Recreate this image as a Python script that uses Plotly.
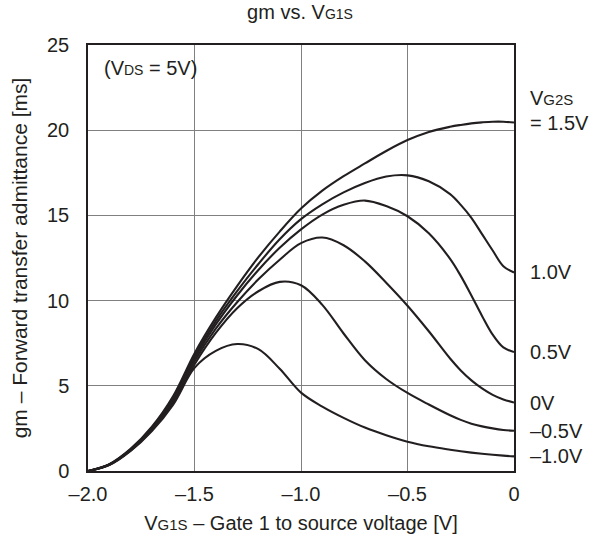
import plotly.graph_objects as go

# Gate-1 to source voltage [V]
vg1s = [-2.0, -1.9, -1.8, -1.7, -1.6, -1.5, -1.4, -1.3, -1.2, -1.1, -1.0,
        -0.9, -0.8, -0.7, -0.6, -0.5, -0.4, -0.3, -0.25, -0.2, -0.15, -0.1, -0.05, 0.0]

# gm [ms] per VG2S
gm_p15 = [0.0, 0.40, 1.30, 2.60, 4.40, 6.90, 9.00, 10.85, 12.55, 14.05, 15.40,
          16.45, 17.30, 18.05, 18.78, 19.42, 19.90, 20.20, 20.31, 20.40, 20.46, 20.50, 20.50, 20.45]
gm_p10 = [0.0, 0.39, 1.27, 2.55, 4.30, 6.75, 8.80, 10.55, 12.15, 13.60, 14.78,
          15.65, 16.35, 16.90, 17.28, 17.35, 17.00, 16.25, 15.62, 14.86, 13.90, 12.94, 12.02, 11.65]
gm_p05 = [0.0, 0.38, 1.25, 2.50, 4.20, 6.60, 8.60, 10.30, 11.80, 13.10, 14.18,
          15.05, 15.62, 15.87, 15.55, 14.95, 13.95, 12.45, 11.45, 10.30, 9.10, 8.00, 7.25, 6.98]
gm_0 = [0.0, 0.37, 1.22, 2.45, 4.10, 6.45, 8.35, 9.90, 11.25, 12.40, 13.37,
        13.70, 13.25, 12.30, 11.05, 9.70, 8.20, 6.60, 5.90, 5.32, 4.85, 4.47, 4.20, 4.02]
gm_m05 = [0.0, 0.36, 1.20, 2.40, 4.00, 6.25, 8.10, 9.55, 10.55, 11.10, 10.90,
          9.75, 8.07, 6.50, 5.40, 4.58, 3.90, 3.27, 3.00, 2.78, 2.62, 2.50, 2.41, 2.36]
gm_m10 = [0.0, 0.35, 1.18, 2.35, 3.90, 6.05, 7.05, 7.45, 7.15, 6.00, 4.60,
          3.78, 3.12, 2.55, 2.10, 1.72, 1.45, 1.25, 1.16, 1.08, 1.01, 0.95, 0.90, 0.86]

series = [gm_p15, gm_p10, gm_p05, gm_0, gm_m05, gm_m10]
end_labels = ["= 1.5V", "1.0V", "0.5V", "0V", "–0.5V", "–1.0V"]

x_ticks = [-2.0, -1.5, -1.0, -0.5, 0.0]
x_ticktext = ["–2.0", "–1.5", "–1.0", "–0.5", "0"]
y_ticks = [0, 5, 10, 15, 20, 25]

ink = "#231f20"
grid = "#808080"
font_family = "Liberation Sans, Arial, Helvetica, sans-serif"


def small(t, size):
    return '<span style="font-size:%dpx">%s</span>' % (size, t)


fig = go.Figure()
for ys in series:
    fig.add_trace(go.Scatter(
        x=vg1s, y=ys, mode="lines",
        line=dict(color=ink, width=2.1, shape="spline", smoothing=1.0),
        showlegend=False, hoverinfo="skip",
    ))

annotations = []
for ys, lab in zip(series, end_labels):
    annotations.append(dict(
        xref="paper", x=1, xanchor="left", xshift=14,
        yref="y", y=ys[-1], yanchor="middle",
        text=lab, showarrow=False, font=dict(size=20, color=ink, family=font_family),
    ))
annotations.append(dict(
    xref="paper", x=1, xanchor="left", xshift=14,
    yref="y", y=gm_p15[-1], yanchor="middle", yshift=25,
    text="V" + small("G2S", 15), showarrow=False,
    font=dict(size=20, color=ink, family=font_family),
))
annotations.append(dict(
    xref="paper", x=0, xanchor="left", xshift=14,
    yref="paper", y=0.946, yanchor="middle",
    text="(V" + small("DS", 14) + " = 5V)", showarrow=False,
    font=dict(size=20, color=ink, family=font_family),
))

fig.update_layout(
    width=600, height=539,
    margin=dict(l=88, r=86, t=45, b=68),
    paper_bgcolor="white", plot_bgcolor="white",
    font=dict(family=font_family, size=20, color=ink),
    title=dict(
        text="gm vs. V" + small("G1S", 14),
        x=0.5, xanchor="center", y=0.977, yanchor="middle", yref="container",
        font=dict(size=20, color=ink, family=font_family),
    ),
    annotations=annotations,
)

fig.update_xaxes(
    range=[-2.0, 0.0], tickvals=x_ticks, ticktext=x_ticktext,
    showgrid=True, gridcolor=grid, gridwidth=1,
    showline=True, linecolor=ink, linewidth=1.5, mirror=True,
    ticks="", ticklabelstandoff=4, zeroline=False, automargin=False,
    tickfont=dict(size=20, color=ink),
    title=dict(text="V" + small("G1S", 15) + " – Gate 1 to source voltage [V]",
               font=dict(size=20, color=ink), standoff=12),
)
fig.update_yaxes(
    range=[0, 25], tickvals=y_ticks,
    showgrid=True, gridcolor=grid, gridwidth=1,
    showline=True, linecolor=ink, linewidth=1.5, mirror=True,
    ticks="", ticklabelstandoff=13, zeroline=False, automargin=False,
    tickfont=dict(size=20, color=ink),
    title=dict(text="gm – Forward transfer admittance [ms]",
               font=dict(size=21, color=ink), standoff=14),
)

fig.write_html("out.html", config={"displayModeBar": False},
               post_script="document.body.style.margin='0px';")
